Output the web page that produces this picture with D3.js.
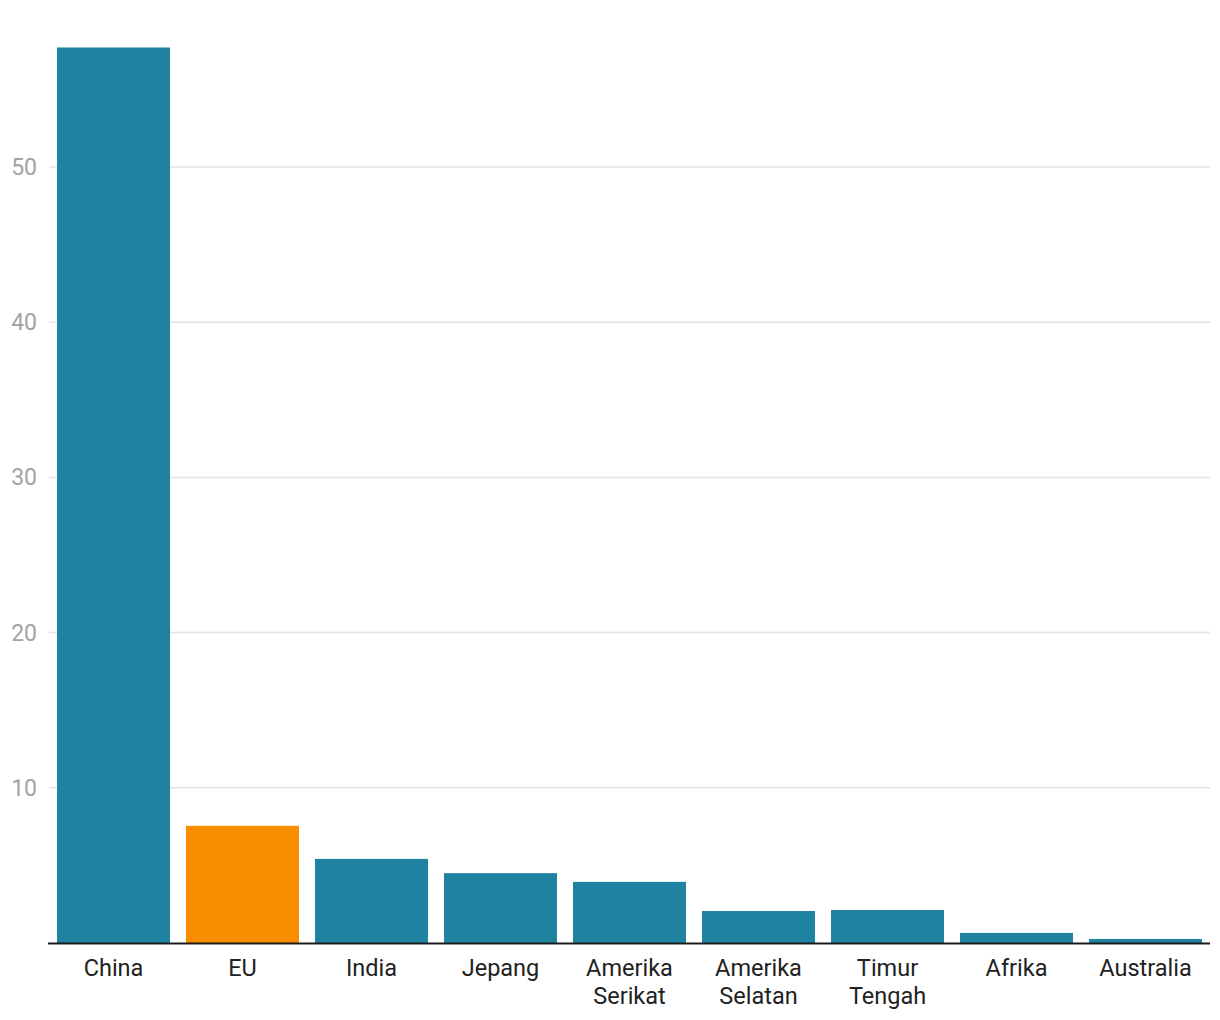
<!DOCTYPE html>
<html><head><meta charset="utf-8">
<script src="https://cdn.jsdelivr.net/npm/d3@7"></script>
<style>body{margin:0;background:#fff;font-family:Roboto,sans-serif}</style>
</head><body><svg id="c" width="1220" height="1020"></svg>
<script>
const categories = [["China"],["EU"],["India"],["Jepang"],["Amerika","Serikat"],["Amerika","Selatan"],["Timur","Tengah"],["Afrika"],["Australia"]];
const values = [57.7, 7.55, 5.42, 4.5, 3.94, 2.06, 2.13, 0.65, 0.26];
const colors = ["#1f82a1","#fa8c00","#1f82a1","#1f82a1","#1f82a1","#1f82a1","#1f82a1","#1f82a1","#1f82a1"];
const yTicks = [10,20,30,40,50];

const svg = d3.select("#c");
const keys = categories.map(c=>c.join(" "));
const x = d3.scaleBand().domain(keys).range([49,1210]).paddingInner(0.124).paddingOuter(0.062);
const y = d3.scaleLinear().domain([0,60]).range([943, 943-60*15.52]);

// gridlines
svg.append("g").selectAll("line").data(yTicks).join("line")
  .attr("x1",49).attr("x2",1210).attr("y1",d=>y(d)).attr("y2",d=>y(d))
  .attr("stroke","#e3e3e3").attr("stroke-width",1.5);
svg.append("g").selectAll("text").data(yTicks).join("text")
  .attr("x",37).attr("y",d=>y(d)).attr("dy","0.35em").attr("text-anchor","end")
  .attr("font-size",23).attr("fill","#a3a3a3").text(d=>d);

// bars
svg.append("g").selectAll("rect").data(values).join("rect")
  .attr("x",(d,i)=>x(keys[i])).attr("width",x.bandwidth())
  .attr("y",d=>y(d)).attr("height",d=>y(0)-y(d)).attr("fill",(d,i)=>colors[i]);

// baseline
svg.append("line").attr("x1",48).attr("x2",1210).attr("y1",y(0)+0.5).attr("y2",y(0)+0.5)
  .attr("stroke","#1a1a1a").attr("stroke-width",2);

// category labels
const lab = svg.append("g").selectAll("text").data(categories).join("text")
  .attr("text-anchor","middle").attr("font-size",23.5).attr("fill","#222")
  .attr("x",(d,i)=>x(keys[i])+x.bandwidth()/2);
lab.selectAll("tspan").data(d=>d).join("tspan")
  .attr("x",function(){return this.parentNode.getAttribute("x");})
  .attr("y",(d,j)=>976+j*28).text(d=>d);
</script></body></html>
